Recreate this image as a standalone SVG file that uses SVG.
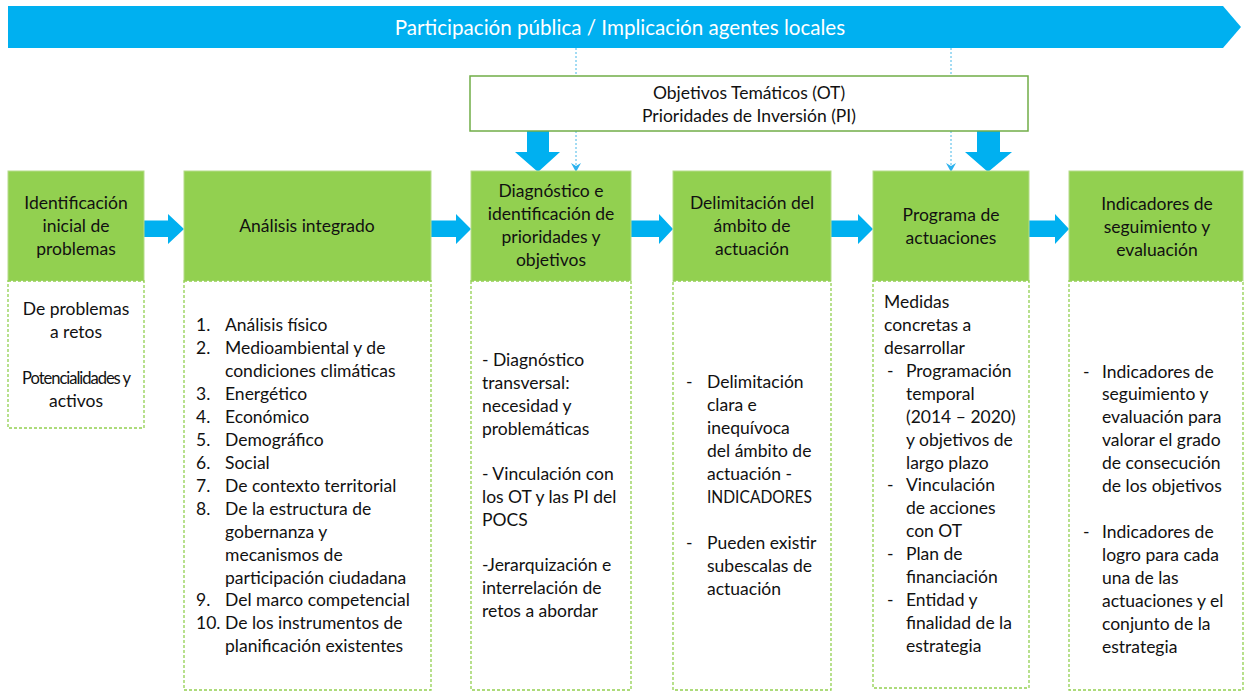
<svg xmlns="http://www.w3.org/2000/svg" width="1249" height="693" viewBox="0 0 1249 693">
<defs>
<style>
.hdr{fill:#92d050;stroke:#b5dc8a;stroke-width:1}
.body{fill:#ffffff;stroke:#92d050;stroke-width:1.3;stroke-dasharray:3 2}
.t{font-family:Lato,"Liberation Sans",sans-serif;font-size:17.5px;fill:#111}
.c{text-anchor:middle}
.blue{fill:#00b0f0}
.dot{stroke:#47b8e8;stroke-width:1;stroke-dasharray:2 2;fill:none}
</style>
<marker id="ah" viewBox="0 0 9 10" refX="9" refY="5" markerWidth="9" markerHeight="10" orient="auto" markerUnits="userSpaceOnUse">
<path d="M0,0 L9,5 L0,10 L3,5 Z" fill="#2cb2ee"/>
</marker>
</defs>
<rect width="1249" height="693" fill="#ffffff"/>

<g id="banner">
<path class="blue" d="M8,6 H1223 L1241,27 L1223,48 H8 Z"/>
<text x="620" y="34.5" text-anchor="middle" font-family="Lato,'Liberation Sans',sans-serif" font-size="20.6" fill="#ffffff">Participación pública / Implicación agentes locales</text>
</g>

<g id="connectors">
<line class="dot" x1="576" y1="48" x2="576" y2="76"/>
<line class="dot" x1="951" y1="48" x2="951" y2="76"/>
<line class="dot" x1="576" y1="131" x2="576" y2="172" marker-end="url(#ah)"/>
<line class="dot" x1="951" y1="131" x2="951" y2="172" marker-end="url(#ah)"/>
<path class="blue" d="M527,131 H549 V152 H560 L538,172 L515,152 H527 Z"/>
<path class="blue" d="M977,131 H1000 V152 H1012 L988,172 L965,152 H977 Z"/>
<path class="blue" d="M143,220.5 H168 V214 L184,229 L168,244 V237 H143 Z"/>
<path class="blue" d="M430,220.5 H456 V214 L471,229 L456,244 V237 H430 Z"/>
<path class="blue" d="M631,220.5 H659 V214 L673,229 L659,244 V237 H631 Z"/>
<path class="blue" d="M831,220.5 H858 V214 L873,229 L858,244 V237 H831 Z"/>
<path class="blue" d="M1029,220.5 H1055 V214 L1069,229 L1055,244 V237 H1029 Z"/>
</g>

<g id="ot">
<rect x="470" y="76" width="558" height="55" fill="#ffffff" stroke="#70ad47" stroke-width="1.5"/>
<text class="t c" x="749" y="99">Objetivos Temáticos (OT)</text>
<text class="t c" x="749" y="122">Prioridades de Inversión (PI)</text>
</g>

<g id="col1">
<rect class="hdr" x="8" y="171" width="136" height="110"/>
<rect class="body" x="8" y="281" width="136" height="147"/>
<text class="t c" x="76" y="209">Identificación</text>
<text class="t c" x="76" y="232">inicial de</text>
<text class="t c" x="76" y="255">problemas</text>
<text class="t c" x="76" y="315">De problemas</text>
<text class="t c" x="76" y="338">a retos</text>
<text class="t c" x="76" y="384" font-size="18" letter-spacing="-1.1" textLength="108" lengthAdjust="spacingAndGlyphs">Potencialidades y</text>
<text class="t c" x="76" y="407">activos</text>
</g>

<g id="col2">
<rect class="hdr" x="184" y="171" width="247" height="110"/>
<rect class="body" x="184" y="281" width="247" height="409"/>
<text class="t c" x="307" y="232">Análisis integrado</text>
<g class="t">
<text x="196" y="331">1.</text><text x="225" y="331">Análisis físico</text>
<text x="196" y="354">2.</text><text x="225" y="354">Medioambiental y de</text>
<text x="225" y="377">condiciones climáticas</text>
<text x="196" y="400">3.</text><text x="225" y="400">Energético</text>
<text x="196" y="423">4.</text><text x="225" y="423">Económico</text>
<text x="196" y="446">5.</text><text x="225" y="446">Demográfico</text>
<text x="196" y="469">6.</text><text x="225" y="469">Social</text>
<text x="196" y="492">7.</text><text x="225" y="492">De contexto territorial</text>
<text x="196" y="515">8.</text><text x="225" y="515">De la estructura de</text>
<text x="225" y="538">gobernanza y</text>
<text x="225" y="561">mecanismos de</text>
<text x="225" y="584">participación ciudadana</text>
<text x="196" y="606">9.</text><text x="225" y="606">Del marco competencial</text>
<text x="196" y="629">10.</text><text x="225" y="629">De los instrumentos de</text>
<text x="225" y="652">planificación existentes</text>
</g>
</g>

<g id="col3">
<rect class="hdr" x="471" y="171" width="160" height="110"/>
<rect class="body" x="471" y="281" width="160" height="409"/>
<text class="t c" x="551" y="197">Diagnóstico e</text>
<text class="t c" x="551" y="220">identificación de</text>
<text class="t c" x="551" y="243">prioridades y</text>
<text class="t c" x="551" y="266">objetivos</text>
<g class="t">
<text x="482" y="366">- Diagnóstico</text>
<text x="482" y="389">transversal:</text>
<text x="482" y="412">necesidad y</text>
<text x="482" y="435">problemáticas</text>
<text x="482" y="480">- Vinculación con</text>
<text x="482" y="503">los OT y las PI del</text>
<text x="482" y="526">POCS</text>
<text x="482" y="571">-Jerarquización e</text>
<text x="482" y="594">interrelación de</text>
<text x="482" y="617">retos a abordar</text>
</g>
</g>

<g id="col4">
<rect class="hdr" x="673" y="171" width="158" height="110"/>
<rect class="body" x="673" y="281" width="158" height="409"/>
<text class="t c" x="752" y="209">Delimitación del</text>
<text class="t c" x="752" y="232">ámbito de</text>
<text class="t c" x="752" y="255">actuación</text>
<g class="t">
<text x="686" y="388">-</text>
<text x="707" y="388">Delimitación</text>
<text x="707" y="411">clara e</text>
<text x="707" y="434">inequívoca</text>
<text x="707" y="457">del ámbito de</text>
<text x="707" y="480">actuación -</text>
<text x="707" y="503" textLength="105" lengthAdjust="spacingAndGlyphs">INDICADORES</text>
<text x="686" y="549">-</text>
<text x="707" y="549">Pueden existir</text>
<text x="707" y="572">subescalas de</text>
<text x="707" y="595">actuación</text>
</g>
</g>

<g id="col5">
<rect class="hdr" x="873" y="171" width="156" height="110"/>
<rect class="body" x="873" y="281" width="156" height="407"/>
<text class="t c" x="951" y="221">Programa de</text>
<text class="t c" x="951" y="244">actuaciones</text>
<g class="t">
<text x="884" y="308">Medidas</text>
<text x="884" y="331">concretas a</text>
<text x="884" y="354">desarrollar</text>
<text x="887" y="377">-</text><text x="906" y="377">Programación</text>
<text x="906" y="400">temporal</text>
<text x="906" y="423">(2014 – 2020)</text>
<text x="906" y="446">y objetivos de</text>
<text x="906" y="469">largo plazo</text>
<text x="887" y="491">-</text><text x="906" y="491">Vinculación</text>
<text x="906" y="514">de acciones</text>
<text x="906" y="537">con OT</text>
<text x="887" y="560">-</text><text x="906" y="560">Plan de</text>
<text x="906" y="583">financiación</text>
<text x="887" y="606">-</text><text x="906" y="606">Entidad y</text>
<text x="906" y="629">finalidad de la</text>
<text x="906" y="652">estrategia</text>
</g>
</g>

<g id="col6">
<rect class="hdr" x="1069" y="171" width="174" height="110"/>
<rect class="body" x="1069" y="281" width="174" height="409"/>
<text class="t c" x="1157" y="210">Indicadores de</text>
<text class="t c" x="1157" y="233">seguimiento y</text>
<text class="t c" x="1157" y="256">evaluación</text>
<g class="t">
<text x="1083" y="378">-</text><text x="1102" y="378">Indicadores de</text>
<text x="1102" y="400">seguimiento y</text>
<text x="1102" y="423">evaluación para</text>
<text x="1102" y="446">valorar el grado</text>
<text x="1102" y="469">de consecución</text>
<text x="1102" y="492">de los objetivos</text>
<text x="1083" y="538">-</text><text x="1102" y="538">Indicadores de</text>
<text x="1102" y="561">logro para cada</text>
<text x="1102" y="584">una de las</text>
<text x="1102" y="607">actuaciones y el</text>
<text x="1102" y="630">conjunto de la</text>
<text x="1102" y="653">estrategia</text>
</g>
</g>
</svg>
